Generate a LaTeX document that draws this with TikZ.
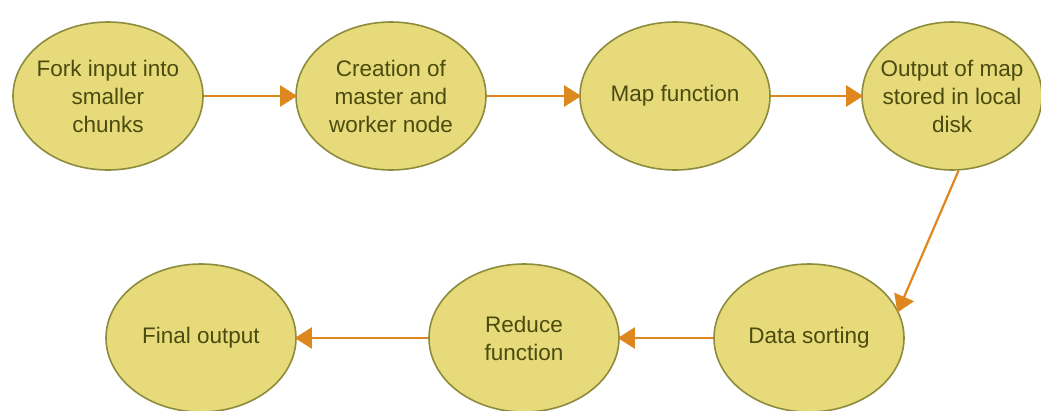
\documentclass[tikz,border=0pt]{standalone}
\usepackage{fontspec}
\setmainfont{Liberation Sans}
\usetikzlibrary{shapes.geometric,arrows.meta}
\definecolor{stepfill}{RGB}{230,218,122}
\definecolor{stepedge}{RGB}{140,140,60}
\definecolor{steptext}{RGB}{75,75,15}
\definecolor{flow}{RGB}{222,135,30}
\tikzset{
  x=1pt, y=-1pt,
  stepnode/.style={ellipse, draw=stepedge, line width=1.6pt, fill=stepfill,
    minimum width=190pt, minimum height=148pt, inner xsep=-30pt, inner ysep=0pt,
    text=steptext, align=center, font=\fontsize{22.5}{28}\selectfont},
  flowline/.style={draw=flow, line width=2.2pt,
    -{Triangle[length=17pt,width=21pt]}, shorten >=-2pt}
}
\begin{document}
\begin{tikzpicture}
\useasboundingbox (0,0) rectangle (1041,410);
\node[stepnode] (fork) at (108,96) {Fork input into\\smaller\\chunks};
\node[stepnode] (create) at (391,96) {Creation of\\master and\\worker node};
\node[stepnode] (map) at (675,96) {Map function};
\node[stepnode, minimum width=180pt] (store) at (952,96) {Output of map\\stored in local\\disk};
\node[stepnode] (final) at (201,338) {Final output};
\node[stepnode] (reduce) at (524,338) {Reduce\\function};
\node[stepnode] (sort) at (809,338) {Data sorting};
\draw[flowline] (fork) -- (create);
\draw[flowline] (create) -- (map);
\draw[flowline] (map) -- (store);
\draw[flowline] (store.-85) -- (sort.17);
\draw[flowline] (sort) -- (reduce);
\draw[flowline] (reduce) -- (final);
\end{tikzpicture}
\end{document}
